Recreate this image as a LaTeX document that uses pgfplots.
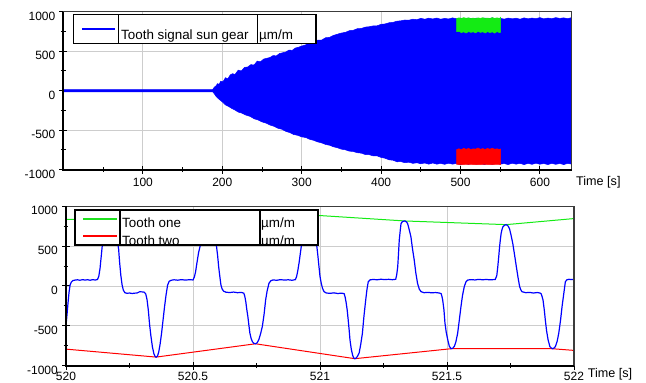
\documentclass[border=0pt]{standalone}
\usepackage{pgfplots}
\pgfplotsset{compat=1.18}
\usepackage{fontspec}
\setmainfont{Liberation Sans}
\definecolor{pblue}{RGB}{0,0,255}
\definecolor{pgreen}{RGB}{20,235,20}
\definecolor{pred}{RGB}{255,0,0}
\definecolor{gridgray}{RGB}{205,205,205}
\definecolor{framegray}{RGB}{60,60,60}
\pgfplotsset{
  myaxis/.style={
    scale only axis,
    axis line style={draw=none},
    tick pos=left,
    tick align=center,
    major tick length=8pt,
    minor tick length=5pt,
    every tick/.style={black, line width=1pt},
    grid=major,
    major grid style={gridgray, line width=0.9pt},
    tick label style={font=\fontsize{12}{14}\selectfont},
    yticklabel style={anchor=north east, inner sep=0pt, xshift=-4pt, yshift=0pt},
    xticklabel style={anchor=north, inner sep=0pt, yshift=-4pt},
    after end axis/.code={
      \draw[line width=1.2pt, framegray] (rel axis cs:0,1) -- (rel axis cs:1,1) -- (rel axis cs:1,0);
      \draw[line width=2pt, black] (rel axis cs:0,1) -- (rel axis cs:0,0) -- (rel axis cs:1,0);
    },
  }
}
\begin{document}
\begin{tikzpicture}
\path[use as bounding box] (0pt,0pt) rectangle (646pt,383pt);
% ---------------- top axis ----------------
\begin{axis}[myaxis,
  at={(63.5pt,213.3pt)}, anchor=south west,
  width=508.2pt, height=158pt,
  xmin=0, xmax=640, ymin=-1000, ymax=1000,
  xtick={100,200,300,400,500,600},
  xticklabels={100,200,300,400,500,600},
  minor xtick={50,150,250,350,450,550},
  ytick={-1000,-500,0,500,1000},
  yticklabels={-1000,-500,0,500,1000},
  minor ytick={-750,-250,250,750},
]
\addplot[draw=pblue, line width=0.5pt, fill=pblue] coordinates {
(0,15) (188,15) (190,45) (192,60) (194,90) (196,80) (198,120) (201,115) (204,165) (207,150)
(210,200) (213,215) (216,205) (220,260) (224,250) (228,295) (232,300) (236,330) (240,325)
(244,375) (248,365) (252,400) (256,410) (260,420) (264,445) (268,440) (272,470) (276,480)
(280,490) (284,515) (288,510) (292,540) (296,550) (300,565) (305,580) (310,605) (315,615)
(320,640) (325,640) (330,670) (335,675) (340,700) (345,715) (350,730) (355,738) (360,760)
(365,765) (370,785) (375,788) (380,805) (385,810) (390,820) (395,822) (400,840) (405,845)
(410,860) (415,865) (420,880) (425,885) (430,895) (435,893) (440,905) (445,900) (450,915)
(455,905) (460,918) (465,908) (470,920) (475,905) (480,915) (485,908) (490,922) (495,910)
(500,918) (505,908) (510,920) (515,910) (520,918) (525,906) (530,920) (535,910) (540,922)
(545,908) (550,916) (555,906) (560,920) (565,910) (570,918) (575,905) (580,922) (585,910)
(590,920) (595,912) (600,925) (605,910) (610,920) (615,912) (620,925) (625,915) (630,922)
(635,912) (640,925)
(640,-930) (635,-920) (630,-935) (625,-922) (620,-932) (615,-920) (610,-935) (605,-922)
(600,-930) (595,-918) (590,-932) (585,-920) (580,-935) (575,-920) (570,-930) (565,-918)
(560,-935) (555,-922) (550,-930) (545,-918) (540,-932) (535,-920) (530,-935) (525,-920)
(520,-930) (515,-918) (510,-932) (505,-920) (500,-935) (495,-920) (490,-930) (485,-918)
(480,-932) (475,-920) (470,-930) (465,-915) (460,-930) (455,-915) (450,-925) (445,-912)
(440,-920) (435,-905) (430,-912) (425,-898) (420,-900) (415,-880) (410,-875) (405,-855)
(400,-845) (395,-825) (390,-825) (385,-810) (380,-808) (375,-790) (370,-785) (365,-770)
(360,-765) (355,-748) (350,-740) (345,-722) (340,-710) (335,-690) (330,-680) (325,-660)
(320,-648) (315,-628) (310,-615) (305,-592) (300,-585) (295,-565) (290,-555) (285,-530)
(280,-515) (275,-488) (270,-475) (265,-450) (260,-435) (255,-410) (250,-395) (245,-370)
(240,-355) (235,-325) (230,-310) (225,-285) (220,-270) (216,-245) (212,-225) (208,-200)
(204,-180) (201,-150) (198,-125) (195,-100) (192,-70) (190,-40) (188,-15) (0,-15)
} -- cycle;
\addplot[draw=pgreen, line width=0.5pt, fill=pgreen] coordinates {
(495.2,915) (498,922) (501,915) (504,925) (507,916) (510,922) (513,914) (516,920) (519,912)
(522,922) (525,916) (528,924) (531,915) (534,920) (537,913) (540,925) (543,916) (546,922)
(549,915) (550.6,930)
(550.6,740) (549,735) (546,748) (543,728) (540,745) (537,735) (534,748) (531,730) (528,745)
(525,738) (522,750) (519,732) (516,745) (513,738) (510,748) (507,730) (504,745) (501,736)
(498,750) (495.2,748)
} -- cycle;
\addplot[draw=pred, line width=0.5pt, fill=pred] coordinates {
(495.2,-745) (498,-735) (501,-748) (504,-728) (507,-742) (510,-730) (513,-745) (516,-735)
(519,-740) (522,-725) (525,-742) (528,-732) (531,-745) (534,-730) (537,-740) (540,-728)
(543,-742) (546,-735) (549,-745) (550.6,-738)
(550.6,-935) (545,-932) (540,-936) (530,-933) (520,-936) (510,-932) (500,-936) (495.2,-933)
} -- cycle;
\end{axis}
% ---------------- bottom axis ----------------
\begin{axis}[myaxis,
  at={(66pt,17.3pt)}, anchor=south west,
  width=508pt, height=159.4pt,
  xmin=520, xmax=522, ymin=-1000, ymax=1000,
  xtick={520,520.5,521,521.5,522},
  xticklabels={520,520.5,521,521.5,522},
  xticklabel style={yshift=1.8pt},
  minor xtick={520.25,520.75,521.25,521.75},
  ytick={-1000,-500,0,500,1000},
  yticklabels={-1000\hspace{-5pt},-500,0,500,1000},
  minor ytick={-750,-250,250,750},
]
\addplot[draw=pgreen, line width=1pt] coordinates {
(520,834) (520.172,848) (520.565,870) (520.955,893) (521.334,816) (521.733,770) (522,846)
};
\addplot[draw=pred, line width=1pt] coordinates {
(520,-792) (520.355,-892) (520.746,-725) (521.137,-912) (521.516,-787) (521.914,-787) (522,-808)
};
\addplot[draw=pblue, line width=1.2pt] coordinates {
(520.000,-500) (520.004,-360) (520.008,-210) (520.012,-80) (520.016,10) (520.021,50)
(520.027,68) (520.035,74) (520.045,78) (520.055,72) (520.065,80) (520.075,74) (520.085,79)
(520.095,72) (520.105,80) (520.115,75) (520.124,82) (520.129,120) (520.134,220) (520.138,350)
(520.142,480) (520.147,640) (520.153,760) (520.160,825) (520.168,848) (520.176,835)
(520.184,780) (520.191,690) (520.198,600) (520.203,540) (520.207,470) (520.211,300)
(520.216,130) (520.221,10) (520.226,-55) (520.232,-84) (520.240,-92) (520.250,-88)
(520.260,-94) (520.270,-90) (520.280,-88) (520.290,-72) (520.300,-74) (520.308,-78)
(520.314,-100) (520.319,-170) (520.324,-300) (520.329,-480) (520.334,-620) (520.340,-760)
(520.346,-850) (520.351,-885) (520.355,-892) (520.360,-880) (520.365,-830) (520.370,-740)
(520.376,-600) (520.382,-430) (520.388,-260) (520.394,-110) (520.400,10) (520.406,58)
(520.414,72) (520.425,78) (520.440,73) (520.455,80) (520.470,74) (520.485,79) (520.500,76)
(520.505,110) (520.510,175) (520.516,300) (520.522,420) (520.529,512) (520.537,650)
(520.546,790) (520.556,860) (520.565,870) (520.574,855) (520.582,780) (520.588,650)
(520.592,512) (520.597,380) (520.601,242) (520.606,110) (520.610,12) (520.615,-40)
(520.621,-66) (520.630,-78) (520.645,-82) (520.660,-76) (520.675,-84) (520.690,-80)
(520.700,-90) (520.704,-130) (520.708,-200) (520.712,-300) (520.716,-383) (520.720,-490)
(520.724,-592) (520.729,-660) (520.734,-700) (520.740,-720) (520.746,-725) (520.752,-715)
(520.759,-675) (520.766,-600) (520.773,-508) (520.780,-350) (520.786,-175) (520.792,-60)
(520.799,33) (520.806,65) (520.815,76) (520.830,72) (520.845,80) (520.860,74) (520.875,78)
(520.890,72) (520.903,80) (520.908,120) (520.913,200) (520.918,300) (520.923,420)
(520.927,512) (520.934,680) (520.942,820) (520.950,885) (520.956,893) (520.963,880)
(520.970,820) (520.977,700) (520.983,590) (520.987,512) (520.991,400) (520.996,242)
(521.000,120) (521.005,33) (521.010,-30) (521.016,-71) (521.025,-88) (521.040,-92)
(521.055,-86) (521.070,-94) (521.085,-90) (521.095,-96) (521.099,-140) (521.103,-210)
(521.107,-300) (521.111,-425) (521.115,-560) (521.118,-675) (521.123,-790) (521.128,-862)
(521.132,-900) (521.137,-912) (521.142,-905) (521.148,-880) (521.154,-842) (521.160,-740)
(521.167,-592) (521.173,-380) (521.180,-175) (521.185,-40) (521.190,54) (521.198,78)
(521.210,82) (521.225,78) (521.240,85) (521.255,80) (521.270,84) (521.285,79) (521.298,84)
(521.302,140) (521.306,242) (521.309,400) (521.312,575) (521.316,700) (521.319,783)
(521.325,810) (521.334,816) (521.340,805) (521.345,783) (521.351,710) (521.358,617)
(521.364,470) (521.371,325) (521.377,170) (521.384,33) (521.391,-40) (521.398,-71)
(521.410,-84) (521.425,-80) (521.440,-86) (521.455,-82) (521.470,-88) (521.477,-96)
(521.480,-130) (521.483,-175) (521.488,-300) (521.492,-467) (521.497,-580) (521.503,-675)
(521.509,-755) (521.516,-787) (521.522,-782) (521.529,-758) (521.535,-700) (521.542,-592)
(521.548,-440) (521.555,-258) (521.561,-120) (521.568,-8) (521.575,55) (521.582,75)
(521.595,80) (521.610,76) (521.625,83) (521.640,78) (521.655,82) (521.670,77) (521.690,82)
(521.696,130) (521.700,242) (521.704,380) (521.707,492) (521.710,580) (521.713,658)
(521.717,715) (521.720,742) (521.726,762) (521.733,770) (521.740,755) (521.746,720)
(521.752,640) (521.759,533) (521.766,390) (521.773,242) (521.780,100) (521.786,-8)
(521.791,-50) (521.795,-71) (521.810,-84) (521.825,-80) (521.840,-88) (521.855,-82)
(521.866,-88) (521.871,-100) (521.875,-140) (521.878,-175) (521.883,-300) (521.887,-425)
(521.892,-560) (521.898,-675) (521.905,-760) (521.914,-787) (521.921,-780) (521.927,-758)
(521.934,-690) (521.940,-592) (521.947,-430) (521.953,-258) (521.960,-90) (521.966,54)
(521.972,78) (521.980,84) (521.990,80) (522.000,84)
};
\end{axis}
% ---------------- axis titles ----------------
\node[anchor=base west, inner sep=0pt, font=\fontsize{12.6}{14}\selectfont] at (576pt,197pt) {Time [s]};
\node[anchor=base west, inner sep=0pt, font=\fontsize{12.6}{14}\selectfont] at (587.7pt,5.7pt) {Time [s]};
% ---------------- legend, top ----------------
\fill[white] (73.3pt,339.7pt) rectangle (316pt,368.3pt);
\path[fill={rgb,255:red,0;green,0;blue,255}] (81.7pt,352.9pt) rectangle (115pt,354.5pt);
\node[anchor=base west, inner sep=0pt, font=\fontsize{13.4}{15}\selectfont] at (121pt,343.7pt) {Tooth signal sun gear};
\node[anchor=base west, inner sep=0pt, font=\fontsize{13.4}{15}\selectfont] at (259pt,343.7pt) {µm/m};
\draw[line width=1.2pt] (73.3pt,339.7pt) rectangle (316pt,368.3pt);
\draw[line width=1.2pt] (118.3pt,339.7pt) -- (118.3pt,368.3pt);
\draw[line width=1.2pt] (257.7pt,339.7pt) -- (257.7pt,368.3pt);
% ---------------- legend, bottom ----------------
\fill[white] (75pt,138pt) rectangle (318pt,173pt);
\path[fill={rgb,255:red,30;green,225;blue,30}] (82.7pt,162.8pt) rectangle (116.7pt,164.6pt);
\path[fill={rgb,255:red,255;green,0;blue,0}] (82.7pt,146.3pt) rectangle (116.7pt,147.7pt);
\begin{scope}
\clip (75pt,138pt) rectangle (318pt,173pt);
\node[anchor=base west, inner sep=0pt, font=\fontsize{13.4}{15}\selectfont] at (122pt,155.3pt) {Tooth one};
\node[anchor=base west, inner sep=0pt, font=\fontsize{13.4}{15}\selectfont] at (122pt,137pt) {Tooth two};
\node[anchor=base west, inner sep=0pt, font=\fontsize{13.4}{15}\selectfont] at (261pt,155.3pt) {µm/m};
\node[anchor=base west, inner sep=0pt, font=\fontsize{13.4}{15}\selectfont] at (261pt,137pt) {µm/m};
\end{scope}
\draw[line width=1.2pt] (75pt,138pt) rectangle (318pt,173pt);
\draw[line width=1.2pt] (120pt,138pt) -- (120pt,173pt);
\draw[line width=1.2pt] (260pt,138pt) -- (260pt,173pt);
\end{tikzpicture}
\end{document}
